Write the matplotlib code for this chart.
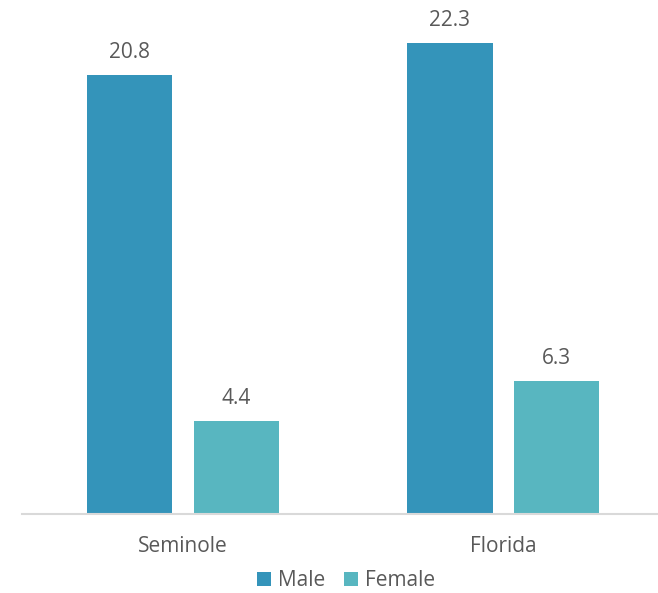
import matplotlib
matplotlib.use("Agg")
import matplotlib.pyplot as plt
import numpy as np

categories = ["Seminole", "Florida"]
male = [20.8, 22.3]
female = [4.4, 6.3]

MALE_COLOR = "#3494BA"
FEMALE_COLOR = "#58B6C0"
TEXT_COLOR = "#595959"

plt.rcParams["font.family"] = ["Open Sans", "DejaVu Sans"]

fig = plt.figure(figsize=(6.58, 5.93), dpi=100)
ax = fig.add_axes([22 / 658, 1 - 514 / 593, 1 - 22 / 658, 514 / 593])

x = np.arange(len(categories))
w = 0.266
off = 0.166
b1 = ax.bar(x - off, male, w, color=MALE_COLOR, label="Male")
b2 = ax.bar(x + off, female, w, color=FEMALE_COLOR, label="Female")

for bars in (b1, b2):
    for b in bars:
        ax.annotate(f"{b.get_height():.1f}", (b.get_x() + b.get_width() / 2, b.get_height()),
                    xytext=(0, 9), textcoords="offset points", ha="center", va="bottom",
                    fontsize=15, color=TEXT_COLOR)

ax.set_xlim(-0.503, 1.484)
ax.set_ylim(0, 24.36)
ax.set_xticks(x)
ax.set_xticklabels(categories, fontsize=15, color=TEXT_COLOR)
ax.tick_params(axis="x", length=0, pad=16)
ax.set_yticks([])
for s in ("top", "right", "left"):
    ax.spines[s].set_visible(False)
ax.spines["bottom"].set_color("#D9D9D9")
ax.spines["bottom"].set_linewidth(1.5)

fig.legend(handles=[b1, b2], labels=["Male", "Female"], loc="center",
           bbox_to_anchor=(0.526, 1 - 581 / 593), ncol=2, frameon=False,
           fontsize=15, labelcolor=TEXT_COLOR, handlelength=0.65, handleheight=0.65,
           handletextpad=0.35, columnspacing=0.9)

fig.savefig("out.png", dpi=100)
